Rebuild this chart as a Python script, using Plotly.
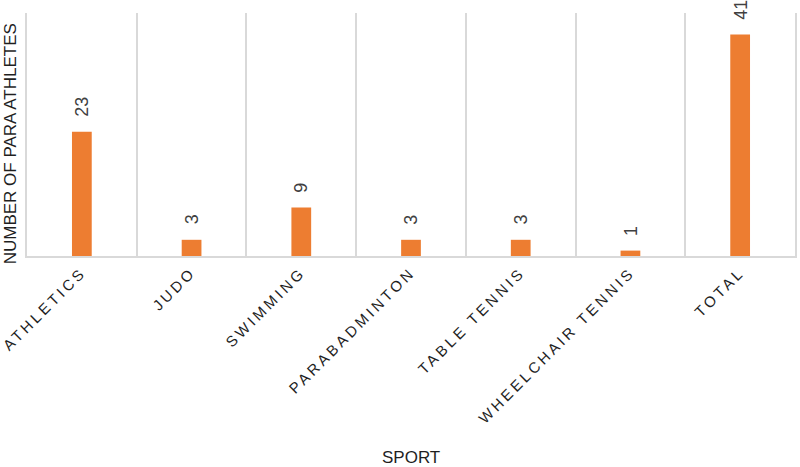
import plotly.graph_objects as go

sports = ["ATHLETICS", "JUDO", "SWIMMING", "PARABADMINTON", "TABLE TENNIS",
          "WHEELCHAIR TENNIS", "TOTAL"]
athletes = [23, 3, 9, 3, 3, 1, 41]

BAR = "#ED7D31"
GRID = "#d9d9d9"
TXT = "#404040"
FONT = "Liberation Sans, Arial, sans-serif"

fig = go.Figure(go.Bar(x=sports, y=athletes, marker=dict(color=BAR, line=dict(width=0)),
                       hoverinfo="skip"))

for s, v in zip(sports, athletes):
    fig.add_annotation(x=s, y=v, text=str(v), showarrow=False, textangle=-90,
                       yanchor="bottom", xanchor="center", yshift=13,
                       font=dict(family=FONT, size=18, color=TXT))

fig.add_annotation(xref="paper", yref="paper", x=-0.022, y=0.46,
                   text="NUMBER OF PARA ATHLETES", showarrow=False, textangle=-90,
                   xanchor="center", yanchor="middle",
                   font=dict(family=FONT, size=17, color="#1f1f1f"))
fig.add_annotation(xref="paper", yref="paper", x=0.5, y=-0.831,
                   text="SPORT", showarrow=False, xanchor="center", yanchor="middle",
                   font=dict(family=FONT, size=17, color="#1f1f1f"))

fig.update_layout(
    width=800, height=467,
    margin=dict(l=27, r=3, t=13, b=211),
    paper_bgcolor="white", plot_bgcolor="white",
    bargap=0.82, showlegend=False,
    xaxis=dict(tickson="boundaries", showgrid=True, gridcolor=GRID, gridwidth=1.5,
               showline=True, linecolor=GRID, linewidth=1.5,
               tickangle=-45, ticks="outside", ticklen=9, tickcolor="rgba(0,0,0,0)",
               tickfont=dict(family=FONT, size=15, color="#1f1f1f"),
               range=[-0.5, 6.5]),
    yaxis=dict(range=[0, 45], showgrid=False, showticklabels=False, zeroline=False,
               showline=True, linecolor=GRID, linewidth=1.5, mirror=True, ticks=""),
)

post = ("document.querySelectorAll('.xtick text').forEach(function(t){"
        "t.style.letterSpacing='3.2px';});")
fig.write_html("out.html", post_script=post)
